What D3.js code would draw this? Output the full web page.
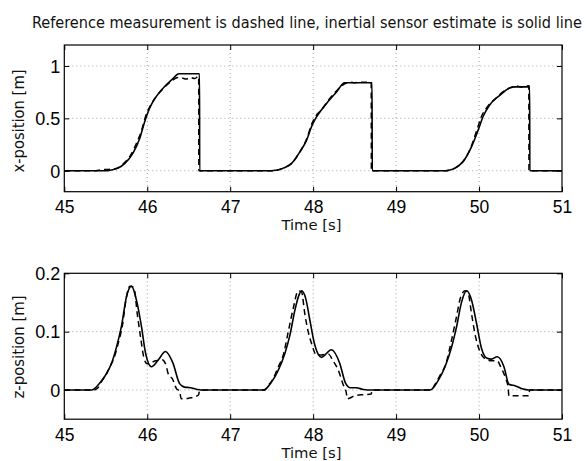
<!DOCTYPE html>
<html><head><meta charset="utf-8">
<script src="https://cdn.jsdelivr.net/npm/d3@7"></script>
<style>body{margin:0;background:#fff}</style>
</head><body>
<svg id="c" width="586" height="461"></svg>
<script>
// ---- data ----
const titleText = "Reference measurement is dashed line, inertial sensor estimate is solid line";
const xLabel = "Time [s]";
const yLabelTop = "x-position [m]";
const yLabelBot = "z-position [m]";
const timeTicks = [45, 46, 47, 48, 49, 50, 51];
const topYTicks = [0, 0.5, 1];
const botYTicks = [0, 0.1, 0.2];

// x-position, inertial estimate (solid)
const xSolidT = [45.0,45.5,45.55,45.65,45.73,45.83,45.91,45.97,46.03,46.11,46.23,46.31,46.38,46.63,46.632,
  47.5,47.55,47.64,47.74,47.84,47.92,47.98,48.03,48.08,48.18,48.28,48.38,48.71,48.712,
  49.6,49.65,49.71,49.81,49.91,49.99,50.05,50.13,50.25,50.37,50.44,50.61,50.612,51.0];
const xSolidV = [0,0,0.005,0.025,0.07,0.17,0.31,0.47,0.60,0.71,0.82,0.88,0.925,0.925,0,
  0,0.005,0.025,0.07,0.18,0.29,0.42,0.50,0.56,0.66,0.75,0.84,0.84,0,
  0,0.007,0.025,0.09,0.23,0.39,0.52,0.63,0.72,0.79,0.80,0.80,0,0];
// x-position, reference (dashed)
const xDashT = [45.0,45.3,45.33,45.36,45.45,45.5,45.58,45.65,45.73,45.8,45.88,45.93,45.98,46.03,46.1,46.2,46.3,46.37,46.42,46.47,46.52,46.57,46.62,46.622,
  47.5,47.55,47.64,47.74,47.84,47.92,47.98,48.03,48.1,48.18,48.28,48.38,48.45,48.5,48.6,48.7,48.702,
  49.6,49.66,49.72,49.81,49.9,49.97,50.03,50.1,50.2,50.3,50.4,50.45,50.5,50.6,50.602,51.0];
const xDashV = [0,0,0.008,0,0.01,0.012,0.015,0.03,0.08,0.15,0.28,0.38,0.52,0.61,0.70,0.79,0.86,0.89,0.885,0.875,0.89,0.88,0.90,0,
  0,0.003,0.025,0.07,0.18,0.30,0.44,0.52,0.58,0.67,0.76,0.83,0.845,0.84,0.845,0.84,0,
  0,0.01,0.03,0.09,0.22,0.38,0.52,0.61,0.69,0.76,0.80,0.81,0.80,0.81,0,0];

// z-position, inertial estimate (solid)
const zSolidT = [45.0,45.33,45.41,45.49,45.57,45.63,45.69,45.75,45.81,45.87,45.93,45.98,46.05,46.13,46.22,46.31,46.39,46.45,46.52,46.6,46.65,
  47.40,47.50,47.58,47.66,47.72,47.78,47.83,47.86,47.91,47.96,48.02,48.10,48.22,48.32,48.39,48.45,48.52,48.6,48.65,
  49.41,49.51,49.59,49.67,49.73,49.79,49.85,49.91,49.97,50.03,50.09,50.15,50.22,50.3,50.36,50.44,50.52,50.6,51.0];
const zSolidV = [0,0,0.009,0.024,0.046,0.074,0.11,0.16,0.178,0.154,0.109,0.063,0.040,0.051,0.066,0.046,0.011,0.005,0.004,0.001,0,
  0,0.014,0.034,0.063,0.094,0.137,0.163,0.170,0.157,0.12,0.077,0.056,0.069,0.046,0.012,0.004,0.004,0.001,0,
  0,0.017,0.04,0.074,0.109,0.151,0.170,0.154,0.114,0.071,0.055,0.053,0.057,0.04,0.01,0.007,0.002,0,0];
// z-position, reference (dashed)
const zDashT = [45.0,45.35,45.4,45.45,45.5,45.55,45.6,45.65,45.7,45.75,45.79,45.84,45.88,45.92,45.96,46.0,46.1,46.18,46.22,46.26,46.3,46.35,46.39,46.41,46.5,46.6,46.62,46.63,
  47.42,47.46,47.52,47.58,47.64,47.7,47.76,47.82,47.86,47.9,47.94,47.98,48.04,48.1,48.18,48.24,48.3,48.36,48.4,48.41,48.5,48.6,48.7,48.71,
  49.42,49.47,49.53,49.6,49.66,49.72,49.78,49.83,49.87,49.91,49.96,50.0,50.06,50.15,50.22,50.26,50.32,50.35,50.36,50.45,50.6,50.61,51.0];
const zDashV = [0,0,0.003,0.015,0.025,0.04,0.055,0.08,0.11,0.16,0.178,0.175,0.13,0.09,0.055,0.045,0.05,0.052,0.045,0.025,0.02,0.003,-0.003,-0.015,-0.014,-0.01,-0.008,0,
  0,0.008,0.02,0.04,0.06,0.1,0.14,0.17,0.168,0.13,0.1,0.08,0.06,0.06,0.062,0.05,0.035,0.01,-0.005,-0.015,-0.01,-0.008,-0.007,0,
  0,0.01,0.025,0.045,0.08,0.12,0.16,0.17,0.165,0.13,0.09,0.07,0.055,0.05,0.05,0.04,0.02,0.005,-0.01,-0.01,-0.01,0,0];

// ---- drawing ----
const svg = d3.select("#c");
const tickFont = "'Liberation Sans', Arial, Helvetica, sans-serif";
const labFont = "'DejaVu Sans Condensed','Liberation Sans Narrow','Liberation Sans',sans-serif";
const x = d3.scaleLinear().domain([45, 51]).range([64.3, 562]);

svg.append("text").text(titleText)
  .attr("x", 306.9).attr("y", 28).attr("text-anchor", "middle")
  .attr("font-family", labFont).attr("font-size", 15)
  .attr("textLength", 550).attr("lengthAdjust", "spacingAndGlyphs").attr("fill", "#111");

const panels = [
  {dom: [-0.2, 1.2], rng: [191.7, 45], ticks: topYTicks, ylab: yLabelTop, ylabY: 121,
   s: [xSolidT, xSolidV], d: [xDashT, xDashV], id: "a"},
  {dom: [-0.05, 0.2], rng: [419.2, 273.3], ticks: botYTicks, ylab: yLabelBot, ylabY: 347,
   s: [zSolidT, zSolidV], d: [zDashT, zDashV], id: "b"}
];

panels.forEach(p => {
  const y = d3.scaleLinear().domain(p.dom).range(p.rng);
  const g = svg.append("g");
  const top = p.rng[1], bot = p.rng[0], left = x.range()[0], right = x.range()[1];

  g.append("clipPath").attr("id", "clip" + p.id).append("rect")
    .attr("x", left).attr("y", top).attr("width", right - left).attr("height", bot - top);

  // grid
  const grid = g.append("g").attr("stroke", "#8a8a8a").attr("stroke-width", 0.8).attr("stroke-dasharray", "1,3");
  timeTicks.filter(t => t > 45 && t < 51).forEach(t => {
    grid.append("line").attr("x1", x(t)).attr("x2", x(t)).attr("y1", top).attr("y2", bot);
  });
  p.ticks.filter(v => y(v) > top + 1 && y(v) < bot - 1).forEach(v => {
    grid.append("line").attr("x1", left).attr("x2", right).attr("y1", y(v)).attr("y2", y(v));
  });

  // axes with inward ticks
  const ax = d3.axisBottom(x).tickValues(timeTicks).tickSize(-5).tickFormat(d3.format("d"));
  const axG = g.append("g").attr("transform", `translate(0,${bot})`).call(ax);
  axG.select(".domain").remove();
  axG.selectAll("text").attr("y", 21.5).attr("dy", null)
    .attr("font-family", tickFont).attr("font-size", 17.5).attr("fill", "#000");
  const axT = g.append("g").attr("transform", `translate(0,${top})`)
    .call(d3.axisTop(x).tickValues(timeTicks).tickSize(-5).tickFormat(""));
  axT.select(".domain").remove();

  const ay = d3.axisLeft(y).tickValues(p.ticks).tickSize(-5).tickFormat(d => String(d));
  const ayG = g.append("g").attr("transform", `translate(${left},0)`).call(ay);
  ayG.select(".domain").remove();
  ayG.selectAll("text").attr("x", -4).attr("dy", "0.35em")
    .attr("font-family", tickFont).attr("font-size", 18).attr("fill", "#000");
  const ayR = g.append("g").attr("transform", `translate(${right},0)`)
    .call(d3.axisRight(y).tickValues(p.ticks).tickSize(-5).tickFormat(""));
  ayR.select(".domain").remove();
  g.selectAll(".tick line").attr("stroke", "#000").attr("stroke-width", 1);

  // curves
  const line = d3.line().x(d => x(d[0])).y(d => y(d[1])).curve(d3.curveMonotoneX);
  const plot = g.append("g").attr("clip-path", `url(#clip${p.id})`);
  plot.append("path").datum(d3.zip(p.d[0], p.d[1])).attr("d", line)
    .attr("fill", "none").attr("stroke", "#000").attr("stroke-width", 1.5).attr("stroke-dasharray", "6,4");
  plot.append("path").datum(d3.zip(p.s[0], p.s[1])).attr("d", line)
    .attr("fill", "none").attr("stroke", "#000").attr("stroke-width", 1.6);

  // frame
  g.append("rect").attr("x", left).attr("y", top).attr("width", right - left).attr("height", bot - top)
    .attr("fill", "none").attr("stroke", "#000").attr("stroke-width", 1.2);

  // labels
  g.append("text").text(xLabel).attr("x", 311.5).attr("y", bot + 38.4)
    .attr("text-anchor", "middle").attr("font-family", labFont).attr("font-size", 14)
    .attr("textLength", 60).attr("lengthAdjust", "spacingAndGlyphs").attr("fill", "#111");
  g.append("text").text(p.ylab)
    .attr("transform", `translate(24,${p.ylabY}) rotate(-90)`)
    .attr("text-anchor", "middle").attr("font-family", labFont).attr("font-size", 16)
    .attr("textLength", 103).attr("lengthAdjust", "spacingAndGlyphs").attr("fill", "#111");
});
</script>
</body></html>
